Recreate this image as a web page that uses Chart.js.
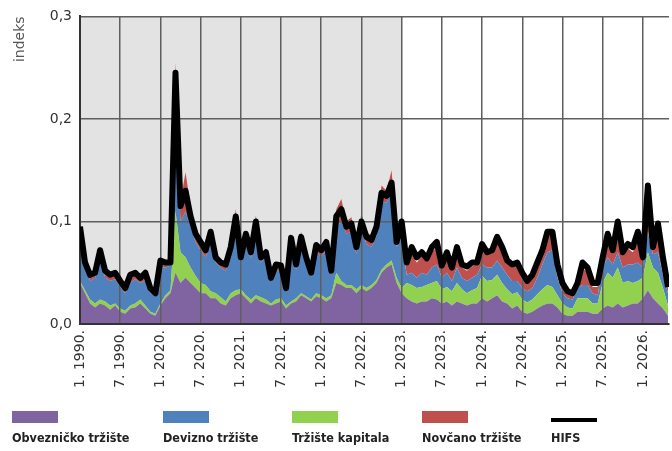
<!DOCTYPE html>
<html>
<head>
<meta charset="utf-8">
<script src="https://cdn.jsdelivr.net/npm/chart.js@4.4.0/dist/chart.umd.min.js"></script>
<style>
    body { margin: 0; background: #fff; }
    #wrap { position: relative; width: 672px; height: 451px; overflow: hidden; }
    #shade { position: absolute; background: #e3e3e3; }
    canvas { position: absolute; left: 0; top: 0; }
    .sw { position: absolute; top: 411px; width: 46px; height: 12px; }
    .lt { position: absolute; top: 430px; font-family: "DejaVu Sans Condensed", "DejaVu Sans", sans-serif;
          font-weight: bold; font-size: 12.5px; color: #222; white-space: nowrap; }
</style>
</head>
<body>
<div id="wrap">
    <div id="shade"></div>
    <canvas id="chart" width="672" height="451"></canvas>
    <div class="sw" style="left:12px;background:#8064a2"></div>
    <div class="sw" style="left:163px;background:#4f81bd"></div>
    <div class="sw" style="left:292px;background:#92d050"></div>
    <div class="sw" style="left:422px;background:#c0504d"></div>
    <div class="sw" style="left:551px;top:418px;height:4px;background:#000"></div>
    <div class="lt" style="left:12px">Obvezničko tržište</div>
    <div class="lt" style="left:163px">Devizno tržište</div>
    <div class="lt" style="left:292px">Tržište kapitala</div>
    <div class="lt" style="left:422px">Novčano tržište</div>
    <div class="lt" style="left:551px">HIFS</div>
</div>
<script>
    'use strict';

    // tick labels, one per half-year
    var tickLabels = ['1. 1990.', '7. 1990.', '1. 2020.', '7. 2020.', '1. 2021.', '7. 2021.', '1. 2022.', '7. 2022.',
        '1. 2023.', '7. 2023.', '1. 2024.', '7. 2024.', '1. 2025.', '7. 2025.', '1. 2026.'];
    var shadeEnd = 8;          // grey background up to 1. 2023.
    var xMax = 14.65;          // last observation, in half-years
    var pointsPerHalfYear = 8;

    // market components (stacked)
    var obveznicko = [
        .04, .03, .02, .016, .02, .018, .014, .018, .012, .01,
        .015, .016, .02, .015, .01, .008, .018, .025, .03, .05,
        .04, .045, .04, .035, .03, .03, .025, .025, .02, .018,
        .025, .028, .03, .025, .02, .025, .022, .02, .018, .02,
        .022, .015, .02, .022, .028, .025, .022, .027, .025, .022,
        .025, .04, .038, .035, .035, .03, .035, .032, .035, .04,
        .05, .055, .058, .04, .03, .025, .022, .02, .022, .022,
        .025, .024, .02, .022, .018, .022, .02, .018, .02, .02,
        .025, .022, .025, .028, .022, .02, .015, .018, .012, .01,
        .012, .015, .018, .02, .02, .016, .01, .008, .008, .012,
        .012, .012, .01, .01, .015, .018, .016, .02, .016, .018,
        .02, .02, .025, .033, .025, .02, .015, .008
    ];
    var kapitala = [
        .002, .003, .004, .004, .004, .004, .004, .002, .003, .003,
        .003, .004, .004, .003, .002, .002, .002, .003, .003, .06,
        .03, .02, .015, .012, .01, .008, .007, .005, .006, .004,
        .005, .005, .004, .003, .004, .003, .004, .004, .002, .004,
        .003, .003, .002, .003, .002, .002, .002, .003, .003, .003,
        .003, .01, .004, .003, .003, .004, .003, .003, .003, .003,
        .003, .003, .004, .005, .005, .015, .016, .015, .014, .016,
        .015, .018, .014, .014, .014, .018, .014, .012, .013, .015,
        .022, .02, .018, .02, .018, .014, .014, .013, .012, .011,
        .012, .014, .016, .018, .016, .012, .01, .008, .007, .013,
        .013, .013, .01, .01, .025, .032, .029, .035, .024, .024,
        .02, .022, .02, .037, .03, .03, .02, .01
    ];
    var devizno = [
        .05, .025, .018, .025, .041, .023, .024, .024, .021, .017,
        .022, .024, .016, .025, .018, .018, .035, .027, .024, .09,
        .03, .045, .04, .033, .032, .027, .046, .03, .029, .03,
        .038, .062, .026, .052, .04, .064, .034, .041, .022, .028,
        .027, .014, .053, .028, .048, .033, .022, .04, .038, .047,
        .02, .045, .058, .05, .052, .034, .054, .043, .037, .043,
        .067, .06, .068, .03, .05, .008, .012, .01, .014, .01,
        .015, .016, .011, .014, .01, .015, .011, .012, .012, .013,
        .011, .013, .012, .014, .015, .014, .013, .011, .011, .011,
        .011, .016, .024, .032, .036, .017, .01, .009, .009, .01,
        .013, .013, .01, .008, .015, .015, .013, .015, .015, .016,
        .018, .018, .01, .02, .013, .02, .013, .012
    ];
    var novcano = [
        .005, .002, .004, .003, .01, .005, .005, .006, .006, .004,
        .006, .006, .006, .005, .004, .002, .007, .005, .003, .055,
        .02, .038, .02, .015, .011, .009, .01, .006, .005, .006,
        .008, .017, .005, .01, .008, .014, .006, .009, .004, .006,
        .006, .004, .013, .007, .012, .008, .004, .01, .01, .011,
        .006, .017, .022, .012, .014, .01, .016, .012, .011, .012,
        .015, .012, .02, .01, .015, .01, .018, .015, .016, .014,
        .015, .017, .01, .016, .01, .015, .01, .01, .011, .01,
        .016, .013, .015, .018, .017, .012, .013, .016, .013, .01,
        .011, .013, .012, .018, .016, .01, .008, .005, .006, .007,
        .017, .012, .006, .008, .013, .02, .014, .025, .017, .016,
        .012, .02, .01, .035, .014, .025, .01, .005
    ];
    // composite index
    var hifs = [
        .095, .06, .048, .05, .072, .052, .048, .05, .042, .035,
        .048, .05, .045, .05, .035, .03, .062, .06, .06, .245,
        .115, .13, .105, .088, .08, .072, .09, .065, .06, .058,
        .075, .105, .065, .088, .07, .1, .065, .07, .045, .058,
        .057, .035, .084, .058, .085, .065, .05, .077, .072, .08,
        .052, .105, .112, .095, .098, .075, .1, .085, .082, .095,
        .128, .125, .138, .08, .1, .06, .075, .065, .07, .064,
        .075, .08, .057, .07, .055, .075, .058, .056, .06, .06,
        .078, .07, .072, .085, .075, .062, .058, .06, .05, .042,
        .048, .06, .072, .09, .09, .058, .04, .032, .03, .04,
        .06, .055, .04, .04, .065, .088, .072, .1, .07, .078,
        .075, .09, .065, .135, .075, .098, .065, .036
    ];

    function toPoints(values) {
        return values.map(function (v, i) {
            return { x: i / pointsPerHalfYear, y: v };
        });
    }

    function area(label, values, color, fill) {
        return {
            label: label,
            data: toPoints(values),
            backgroundColor: color,
            borderColor: 'rgba(0,0,0,0)',
            borderWidth: 0,
            pointRadius: 0,
            tension: 0,
            fill: fill,
            stack: 'markets'
        };
    }

    // grey block behind the canvas, placed from the x scale
    var shadePlugin = {
        id: 'shade',
        afterDraw: function (chart) {
            var a = chart.chartArea;
            var el = document.getElementById('shade');
            var right = chart.scales.x.getPixelForValue(shadeEnd);
            el.style.left = a.left + 'px';
            el.style.top = a.top + 'px';
            el.style.width = (right - a.left) + 'px';
            el.style.height = (a.bottom - a.top) + 'px';
        }
    };

    var gridColor = '#5e5e5e';
    var tickFont = { family: '"DejaVu Sans"', size: 14 };

    new Chart(document.getElementById('chart'), {
        type: 'line',
        data: {
            datasets: [
                area('Obvezničko tržište', obveznicko, '#8064a2', 'origin'),
                area('Tržište kapitala', kapitala, '#92d050', 'stack'),
                area('Devizno tržište', devizno, '#4f81bd', 'stack'),
                area('Novčano tržište', novcano, '#c0504d', 'stack'),
                {
                    label: 'HIFS',
                    data: toPoints(hifs),
                    borderColor: '#000',
                    borderWidth: 6,
                    borderJoinStyle: 'round',
                    pointRadius: 0,
                    tension: 0,
                    fill: false,
                    stack: 'hifs'
                }
            ]
        },
        options: {
            responsive: false,
            animation: false,
            devicePixelRatio: 1,
            layout: { padding: { top: 12, right: 3, left: 0, bottom: 0 } },
            plugins: {
                legend: { display: false },
                tooltip: { enabled: false },
                // fills go under the grid, the HIFS line above it
                filler: { drawTime: 'beforeDraw' }
            },
            scales: {
                x: {
                    type: 'linear',
                    min: 0,
                    max: xMax,
                    afterBuildTicks: function (scale) {
                        scale.ticks = tickLabels.map(function (t, i) { return { value: i }; });
                    },
                    afterFit: function (scale) { scale.height = 127; },
                    ticks: {
                        autoSkip: false,
                        minRotation: 90,
                        maxRotation: 90,
                        padding: 6,
                        color: '#333',
                        font: tickFont,
                        callback: function (v) { return tickLabels[v]; }
                    },
                    grid: { color: gridColor, lineWidth: 1.5, drawTicks: false },
                    border: { color: '#333', width: 2 }
                },
                y: {
                    stacked: true,
                    min: 0,
                    max: 0.3,
                    afterBuildTicks: function (scale) {
                        scale.ticks = [0, 0.1, 0.2, 0.3].map(function (v) { return { value: v }; });
                    },
                    afterFit: function (scale) { scale.width = 80; },
                    ticks: {
                        padding: 8,
                        color: '#333',
                        font: tickFont,
                        callback: function (v) { return v.toFixed(1).replace('.', ','); }
                    },
                    title: {
                        display: true,
                        text: 'indeks',
                        align: 'end',
                        color: '#555',
                        font: { family: '"DejaVu Sans"', size: 14 },
                        padding: { top: 12, bottom: 0 }
                    },
                    grid: { color: gridColor, lineWidth: 1.5, drawTicks: false },
                    border: { color: '#333', width: 2 }
                }
            }
        },
        plugins: [shadePlugin]
    });
</script>
</body>
</html>
